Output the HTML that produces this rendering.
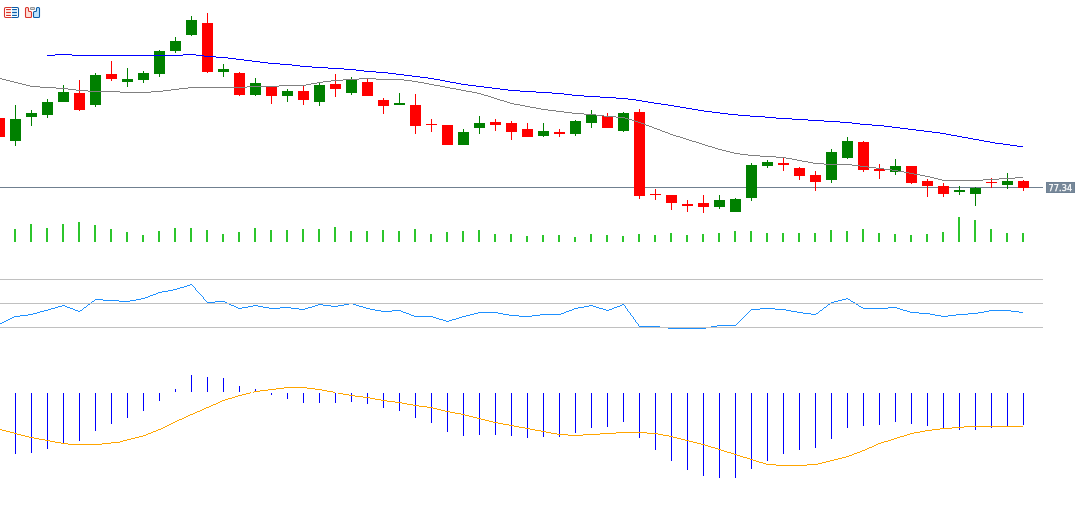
<!DOCTYPE html>
<html><head><meta charset="utf-8"><title>Chart</title>
<style>
html,body{margin:0;padding:0;background:#ffffff;}
body{width:1079px;height:505px;overflow:hidden;font-family:"Liberation Sans",sans-serif;}
svg{display:block;}
</style></head><body>
<svg width="1079" height="505" viewBox="0 0 1079 505">
<rect x="0" y="0" width="1079" height="505" fill="#ffffff"/>
<g shape-rendering="crispEdges">
<rect x="0" y="187" width="1043" height="1" fill="#708090"/>
<g fill="#ff0000"><rect x="-1" y="118" width="1" height="19"/><rect x="-6" y="118" width="11" height="19"/><rect x="79" y="80" width="1" height="31"/><rect x="74" y="93" width="11" height="17"/><rect x="111" y="61" width="1" height="20"/><rect x="106" y="74" width="11" height="5"/><rect x="207" y="13" width="1" height="60"/><rect x="202" y="23" width="11" height="49"/><rect x="239" y="72" width="1" height="24"/><rect x="234" y="73" width="11" height="22"/><rect x="271" y="86" width="1" height="18"/><rect x="266" y="87" width="11" height="9"/><rect x="303" y="85" width="1" height="20"/><rect x="298" y="91" width="11" height="9"/><rect x="335" y="74" width="1" height="23"/><rect x="330" y="84" width="11" height="5"/><rect x="367" y="79" width="1" height="17"/><rect x="362" y="82" width="11" height="14"/><rect x="383" y="98" width="1" height="16"/><rect x="378" y="100" width="11" height="6"/><rect x="415" y="94" width="1" height="40"/><rect x="410" y="105" width="11" height="21"/><rect x="431" y="119" width="1" height="13"/><rect x="426" y="124" width="11" height="1"/><rect x="447" y="125" width="1" height="20"/><rect x="442" y="125" width="11" height="20"/><rect x="495" y="119" width="1" height="12"/><rect x="490" y="122" width="11" height="3"/><rect x="511" y="121" width="1" height="19"/><rect x="506" y="123" width="11" height="9"/><rect x="527" y="123" width="1" height="14"/><rect x="522" y="129" width="11" height="8"/><rect x="559" y="129" width="1" height="8"/><rect x="554" y="132" width="11" height="2"/><rect x="607" y="113" width="1" height="15"/><rect x="602" y="116" width="11" height="12"/><rect x="639" y="109" width="1" height="90"/><rect x="634" y="112" width="11" height="84"/><rect x="655" y="189" width="1" height="11"/><rect x="650" y="194" width="11" height="1"/><rect x="671" y="195" width="1" height="15"/><rect x="666" y="195" width="11" height="8"/><rect x="687" y="200" width="1" height="12"/><rect x="682" y="204" width="11" height="2"/><rect x="703" y="195" width="1" height="18"/><rect x="698" y="203" width="11" height="4"/><rect x="783" y="158" width="1" height="13"/><rect x="778" y="163" width="11" height="2"/><rect x="799" y="167" width="1" height="13"/><rect x="794" y="168" width="11" height="8"/><rect x="815" y="171" width="1" height="20"/><rect x="810" y="175" width="11" height="7"/><rect x="863" y="141" width="1" height="31"/><rect x="858" y="142" width="11" height="28"/><rect x="879" y="164" width="1" height="15"/><rect x="874" y="169" width="11" height="2"/><rect x="911" y="166" width="1" height="18"/><rect x="906" y="166" width="11" height="17"/><rect x="927" y="179" width="1" height="18"/><rect x="922" y="181" width="11" height="5"/><rect x="943" y="183" width="1" height="14"/><rect x="938" y="186" width="11" height="8"/><rect x="991" y="178" width="1" height="10"/><rect x="986" y="182" width="11" height="1"/><rect x="1023" y="180" width="1" height="11"/><rect x="1018" y="181" width="11" height="7"/></g>
<g fill="#008000"><rect x="15" y="105" width="1" height="41"/><rect x="10" y="119" width="11" height="22"/><rect x="31" y="110" width="1" height="16"/><rect x="26" y="113" width="11" height="4"/><rect x="47" y="99" width="1" height="19"/><rect x="42" y="102" width="11" height="13"/><rect x="63" y="85" width="1" height="17"/><rect x="58" y="92" width="11" height="10"/><rect x="95" y="73" width="1" height="34"/><rect x="90" y="75" width="11" height="30"/><rect x="127" y="68" width="1" height="19"/><rect x="122" y="79" width="11" height="3"/><rect x="143" y="71" width="1" height="12"/><rect x="138" y="73" width="11" height="7"/><rect x="159" y="50" width="1" height="27"/><rect x="154" y="51" width="11" height="23"/><rect x="175" y="37" width="1" height="16"/><rect x="170" y="41" width="11" height="10"/><rect x="191" y="16" width="1" height="20"/><rect x="186" y="20" width="11" height="15"/><rect x="223" y="64" width="1" height="13"/><rect x="218" y="69" width="11" height="3"/><rect x="255" y="78" width="1" height="18"/><rect x="250" y="83" width="11" height="12"/><rect x="287" y="89" width="1" height="13"/><rect x="282" y="91" width="11" height="5"/><rect x="319" y="82" width="1" height="24"/><rect x="314" y="85" width="11" height="17"/><rect x="351" y="77" width="1" height="18"/><rect x="346" y="79" width="11" height="14"/><rect x="399" y="93" width="1" height="12"/><rect x="394" y="103" width="11" height="2"/><rect x="463" y="129" width="1" height="16"/><rect x="458" y="132" width="11" height="13"/><rect x="479" y="116" width="1" height="18"/><rect x="474" y="123" width="11" height="5"/><rect x="543" y="123" width="1" height="14"/><rect x="538" y="131" width="11" height="5"/><rect x="575" y="120" width="1" height="16"/><rect x="570" y="121" width="11" height="13"/><rect x="591" y="110" width="1" height="18"/><rect x="586" y="115" width="11" height="8"/><rect x="623" y="112" width="1" height="20"/><rect x="618" y="113" width="11" height="18"/><rect x="719" y="195" width="1" height="14"/><rect x="714" y="200" width="11" height="7"/><rect x="735" y="198" width="1" height="14"/><rect x="730" y="199" width="11" height="13"/><rect x="751" y="163" width="1" height="38"/><rect x="746" y="165" width="11" height="33"/><rect x="767" y="160" width="1" height="8"/><rect x="762" y="162" width="11" height="4"/><rect x="831" y="149" width="1" height="34"/><rect x="826" y="152" width="11" height="28"/><rect x="847" y="137" width="1" height="22"/><rect x="842" y="141" width="11" height="17"/><rect x="895" y="159" width="1" height="16"/><rect x="890" y="166" width="11" height="6"/><rect x="959" y="186" width="1" height="9"/><rect x="954" y="190" width="11" height="2"/><rect x="975" y="187" width="1" height="19"/><rect x="970" y="188" width="11" height="6"/><rect x="1007" y="173" width="1" height="16"/><rect x="1002" y="181" width="11" height="4"/></g>
<g fill="#808080"><rect x="0" y="78" width="2" height="1"/><rect x="359" y="78" width="17" height="1"/><rect x="2" y="79" width="4" height="1"/><rect x="343" y="79" width="16" height="1"/><rect x="376" y="79" width="28" height="1"/><rect x="6" y="80" width="4" height="1"/><rect x="331" y="80" width="12" height="1"/><rect x="404" y="80" width="8" height="1"/><rect x="10" y="81" width="4" height="1"/><rect x="323" y="81" width="8" height="1"/><rect x="412" y="81" width="6" height="1"/><rect x="14" y="82" width="4" height="1"/><rect x="317" y="82" width="6" height="1"/><rect x="418" y="82" width="6" height="1"/><rect x="18" y="83" width="4" height="1"/><rect x="311" y="83" width="6" height="1"/><rect x="424" y="83" width="5" height="1"/><rect x="22" y="84" width="4" height="1"/><rect x="306" y="84" width="5" height="1"/><rect x="429" y="84" width="5" height="1"/><rect x="26" y="85" width="4" height="1"/><rect x="279" y="85" width="27" height="1"/><rect x="434" y="85" width="6" height="1"/><rect x="30" y="86" width="10" height="1"/><rect x="247" y="86" width="32" height="1"/><rect x="440" y="86" width="5" height="1"/><rect x="40" y="87" width="16" height="1"/><rect x="188" y="87" width="59" height="1"/><rect x="445" y="87" width="5" height="1"/><rect x="56" y="88" width="12" height="1"/><rect x="179" y="88" width="9" height="1"/><rect x="450" y="88" width="6" height="1"/><rect x="68" y="89" width="8" height="1"/><rect x="171" y="89" width="8" height="1"/><rect x="456" y="89" width="5" height="1"/><rect x="76" y="90" width="12" height="1"/><rect x="163" y="90" width="8" height="1"/><rect x="461" y="90" width="5" height="1"/><rect x="88" y="91" width="32" height="1"/><rect x="151" y="91" width="12" height="1"/><rect x="466" y="91" width="6" height="1"/><rect x="120" y="92" width="31" height="1"/><rect x="472" y="92" width="5" height="1"/><rect x="477" y="93" width="4" height="1"/><rect x="481" y="94" width="3" height="1"/><rect x="484" y="95" width="4" height="1"/><rect x="488" y="96" width="3" height="1"/><rect x="491" y="97" width="3" height="1"/><rect x="494" y="98" width="3" height="1"/><rect x="497" y="99" width="3" height="1"/><rect x="500" y="100" width="4" height="1"/><rect x="504" y="101" width="3" height="1"/><rect x="507" y="102" width="3" height="1"/><rect x="510" y="103" width="4" height="1"/><rect x="514" y="104" width="6" height="1"/><rect x="520" y="105" width="5" height="1"/><rect x="525" y="106" width="5" height="1"/><rect x="530" y="107" width="6" height="1"/><rect x="536" y="108" width="5" height="1"/><rect x="541" y="109" width="7" height="1"/><rect x="548" y="110" width="8" height="1"/><rect x="556" y="111" width="8" height="1"/><rect x="564" y="112" width="8" height="1"/><rect x="572" y="113" width="12" height="1"/><rect x="584" y="114" width="12" height="1"/><rect x="596" y="115" width="8" height="1"/><rect x="604" y="116" width="12" height="1"/><rect x="616" y="117" width="9" height="1"/><rect x="625" y="118" width="3" height="1"/><rect x="628" y="119" width="4" height="1"/><rect x="632" y="120" width="3" height="1"/><rect x="635" y="121" width="3" height="1"/><rect x="638" y="122" width="3" height="1"/><rect x="641" y="123" width="3" height="1"/><rect x="644" y="124" width="2" height="1"/><rect x="646" y="125" width="3" height="1"/><rect x="649" y="126" width="3" height="1"/><rect x="652" y="127" width="2" height="1"/><rect x="654" y="128" width="3" height="1"/><rect x="657" y="129" width="3" height="1"/><rect x="660" y="130" width="2" height="1"/><rect x="662" y="131" width="3" height="1"/><rect x="665" y="132" width="3" height="1"/><rect x="668" y="133" width="2" height="1"/><rect x="670" y="134" width="3" height="1"/><rect x="673" y="135" width="3" height="1"/><rect x="676" y="136" width="4" height="1"/><rect x="680" y="137" width="3" height="1"/><rect x="683" y="138" width="3" height="1"/><rect x="686" y="139" width="3" height="1"/><rect x="689" y="140" width="3" height="1"/><rect x="692" y="141" width="4" height="1"/><rect x="696" y="142" width="3" height="1"/><rect x="699" y="143" width="3" height="1"/><rect x="702" y="144" width="3" height="1"/><rect x="705" y="145" width="3" height="1"/><rect x="708" y="146" width="4" height="1"/><rect x="712" y="147" width="3" height="1"/><rect x="715" y="148" width="3" height="1"/><rect x="718" y="149" width="4" height="1"/><rect x="722" y="150" width="4" height="1"/><rect x="726" y="151" width="4" height="1"/><rect x="730" y="152" width="4" height="1"/><rect x="734" y="153" width="6" height="1"/><rect x="740" y="154" width="8" height="1"/><rect x="748" y="155" width="12" height="1"/><rect x="760" y="156" width="16" height="1"/><rect x="776" y="157" width="10" height="1"/><rect x="786" y="158" width="6" height="1"/><rect x="792" y="159" width="5" height="1"/><rect x="797" y="160" width="5" height="1"/><rect x="802" y="161" width="6" height="1"/><rect x="808" y="162" width="5" height="1"/><rect x="813" y="163" width="11" height="1"/><rect x="824" y="164" width="28" height="1"/><rect x="852" y="165" width="8" height="1"/><rect x="860" y="166" width="8" height="1"/><rect x="868" y="167" width="8" height="1"/><rect x="876" y="168" width="8" height="1"/><rect x="884" y="169" width="8" height="1"/><rect x="892" y="170" width="6" height="1"/><rect x="898" y="171" width="6" height="1"/><rect x="904" y="172" width="5" height="1"/><rect x="909" y="173" width="5" height="1"/><rect x="914" y="174" width="6" height="1"/><rect x="920" y="175" width="5" height="1"/><rect x="925" y="176" width="5" height="1"/><rect x="930" y="177" width="4" height="1"/><rect x="1015" y="177" width="8" height="1"/><rect x="934" y="178" width="4" height="1"/><rect x="999" y="178" width="16" height="1"/><rect x="938" y="179" width="4" height="1"/><rect x="983" y="179" width="16" height="1"/><rect x="942" y="180" width="41" height="1"/></g>
<g fill="#0000ff"><rect x="55" y="54" width="17" height="1"/><rect x="183" y="54" width="13" height="1"/><rect x="47" y="55" width="8" height="1"/><rect x="72" y="55" width="111" height="1"/><rect x="196" y="55" width="8" height="1"/><rect x="204" y="56" width="12" height="1"/><rect x="216" y="57" width="12" height="1"/><rect x="228" y="58" width="8" height="1"/><rect x="236" y="59" width="8" height="1"/><rect x="244" y="60" width="8" height="1"/><rect x="252" y="61" width="8" height="1"/><rect x="260" y="62" width="8" height="1"/><rect x="268" y="63" width="12" height="1"/><rect x="280" y="64" width="12" height="1"/><rect x="292" y="65" width="8" height="1"/><rect x="300" y="66" width="12" height="1"/><rect x="312" y="67" width="16" height="1"/><rect x="328" y="68" width="16" height="1"/><rect x="344" y="69" width="12" height="1"/><rect x="356" y="70" width="8" height="1"/><rect x="364" y="71" width="12" height="1"/><rect x="376" y="72" width="12" height="1"/><rect x="388" y="73" width="8" height="1"/><rect x="396" y="74" width="8" height="1"/><rect x="404" y="75" width="8" height="1"/><rect x="412" y="76" width="8" height="1"/><rect x="420" y="77" width="8" height="1"/><rect x="428" y="78" width="6" height="1"/><rect x="434" y="79" width="6" height="1"/><rect x="440" y="80" width="5" height="1"/><rect x="445" y="81" width="5" height="1"/><rect x="450" y="82" width="6" height="1"/><rect x="456" y="83" width="5" height="1"/><rect x="461" y="84" width="7" height="1"/><rect x="468" y="85" width="8" height="1"/><rect x="476" y="86" width="8" height="1"/><rect x="484" y="87" width="8" height="1"/><rect x="492" y="88" width="8" height="1"/><rect x="500" y="89" width="8" height="1"/><rect x="508" y="90" width="12" height="1"/><rect x="520" y="91" width="16" height="1"/><rect x="536" y="92" width="16" height="1"/><rect x="552" y="93" width="12" height="1"/><rect x="564" y="94" width="8" height="1"/><rect x="572" y="95" width="12" height="1"/><rect x="584" y="96" width="16" height="1"/><rect x="600" y="97" width="16" height="1"/><rect x="616" y="98" width="12" height="1"/><rect x="628" y="99" width="8" height="1"/><rect x="636" y="100" width="6" height="1"/><rect x="642" y="101" width="6" height="1"/><rect x="648" y="102" width="6" height="1"/><rect x="654" y="103" width="7" height="1"/><rect x="661" y="104" width="7" height="1"/><rect x="668" y="105" width="6" height="1"/><rect x="674" y="106" width="6" height="1"/><rect x="680" y="107" width="6" height="1"/><rect x="686" y="108" width="6" height="1"/><rect x="692" y="109" width="6" height="1"/><rect x="698" y="110" width="6" height="1"/><rect x="704" y="111" width="8" height="1"/><rect x="712" y="112" width="8" height="1"/><rect x="720" y="113" width="8" height="1"/><rect x="728" y="114" width="10" height="1"/><rect x="738" y="115" width="12" height="1"/><rect x="750" y="116" width="15" height="1"/><rect x="765" y="117" width="11" height="1"/><rect x="776" y="118" width="16" height="1"/><rect x="792" y="119" width="16" height="1"/><rect x="808" y="120" width="16" height="1"/><rect x="824" y="121" width="16" height="1"/><rect x="840" y="122" width="12" height="1"/><rect x="852" y="123" width="8" height="1"/><rect x="860" y="124" width="12" height="1"/><rect x="872" y="125" width="12" height="1"/><rect x="884" y="126" width="8" height="1"/><rect x="892" y="127" width="8" height="1"/><rect x="900" y="128" width="8" height="1"/><rect x="908" y="129" width="8" height="1"/><rect x="916" y="130" width="8" height="1"/><rect x="924" y="131" width="8" height="1"/><rect x="932" y="132" width="8" height="1"/><rect x="940" y="133" width="6" height="1"/><rect x="946" y="134" width="5" height="1"/><rect x="951" y="135" width="6" height="1"/><rect x="957" y="136" width="5" height="1"/><rect x="962" y="137" width="6" height="1"/><rect x="968" y="138" width="5" height="1"/><rect x="973" y="139" width="6" height="1"/><rect x="979" y="140" width="5" height="1"/><rect x="984" y="141" width="6" height="1"/><rect x="990" y="142" width="5" height="1"/><rect x="995" y="143" width="8" height="1"/><rect x="1003" y="144" width="7" height="1"/><rect x="1010" y="145" width="7" height="1"/><rect x="1017" y="146" width="6" height="1"/></g>
<rect x="1046" y="182" width="29" height="11" fill="#6f8194"/>
<rect x="1047" y="183" width="27" height="9" fill="#778899"/>
<text x="1048.6" y="191" font-family="DejaVu Sans Condensed, DejaVu Sans, Liberation Sans, sans-serif" font-stretch="condensed" font-size="9" letter-spacing="0.1" fill="#ffffff" stroke="#ffffff" stroke-width="0.25">77.34</text>
<g fill="#2cc52c"><rect x="14" y="229" width="2" height="13"/><rect x="30" y="224" width="2" height="18"/><rect x="46" y="228" width="2" height="14"/><rect x="62" y="224" width="2" height="18"/><rect x="78" y="222" width="2" height="20"/><rect x="94" y="225" width="2" height="17"/><rect x="110" y="229" width="2" height="13"/><rect x="126" y="232" width="2" height="10"/><rect x="142" y="235" width="2" height="7"/><rect x="158" y="231" width="2" height="11"/><rect x="174" y="228" width="2" height="14"/><rect x="190" y="228" width="2" height="14"/><rect x="206" y="230" width="2" height="12"/><rect x="222" y="234" width="2" height="8"/><rect x="238" y="232" width="2" height="10"/><rect x="254" y="228" width="2" height="14"/><rect x="270" y="230" width="2" height="12"/><rect x="286" y="230" width="2" height="12"/><rect x="302" y="229" width="2" height="13"/><rect x="318" y="229" width="2" height="13"/><rect x="334" y="227" width="2" height="15"/><rect x="350" y="231" width="2" height="11"/><rect x="366" y="231" width="2" height="11"/><rect x="382" y="230" width="2" height="12"/><rect x="398" y="231" width="2" height="11"/><rect x="414" y="229" width="2" height="13"/><rect x="430" y="234" width="2" height="8"/><rect x="446" y="232" width="2" height="10"/><rect x="462" y="231" width="2" height="11"/><rect x="478" y="230" width="2" height="12"/><rect x="494" y="234" width="2" height="8"/><rect x="510" y="234" width="2" height="8"/><rect x="526" y="236" width="2" height="6"/><rect x="542" y="235" width="2" height="7"/><rect x="558" y="235" width="2" height="7"/><rect x="574" y="237" width="2" height="5"/><rect x="590" y="234" width="2" height="8"/><rect x="606" y="235" width="2" height="7"/><rect x="622" y="236" width="2" height="6"/><rect x="638" y="234" width="2" height="8"/><rect x="654" y="235" width="2" height="7"/><rect x="670" y="233" width="2" height="9"/><rect x="686" y="235" width="2" height="7"/><rect x="702" y="234" width="2" height="8"/><rect x="718" y="233" width="2" height="9"/><rect x="734" y="231" width="2" height="11"/><rect x="750" y="231" width="2" height="11"/><rect x="766" y="233" width="2" height="9"/><rect x="782" y="233" width="2" height="9"/><rect x="798" y="233" width="2" height="9"/><rect x="814" y="233" width="2" height="9"/><rect x="830" y="230" width="2" height="12"/><rect x="846" y="231" width="2" height="11"/><rect x="862" y="229" width="2" height="13"/><rect x="878" y="233" width="2" height="9"/><rect x="894" y="234" width="2" height="8"/><rect x="910" y="235" width="2" height="7"/><rect x="926" y="234" width="2" height="8"/><rect x="942" y="232" width="2" height="10"/><rect x="958" y="217" width="2" height="25"/><rect x="974" y="220" width="2" height="22"/><rect x="990" y="229" width="2" height="13"/><rect x="1006" y="233" width="2" height="9"/><rect x="1022" y="233" width="2" height="9"/></g>
<g fill="#1e90ff"><rect x="190" y="284" width="2" height="1"/><rect x="187" y="285" width="3" height="1"/><rect x="192" y="285" width="1" height="1"/><rect x="184" y="286" width="3" height="1"/><rect x="193" y="286" width="1" height="1"/><rect x="180" y="287" width="4" height="1"/><rect x="194" y="287" width="1" height="1"/><rect x="177" y="288" width="3" height="1"/><rect x="195" y="288" width="1" height="1"/><rect x="173" y="289" width="4" height="1"/><rect x="195" y="289" width="1" height="1"/><rect x="168" y="290" width="5" height="1"/><rect x="196" y="290" width="1" height="1"/><rect x="162" y="291" width="6" height="1"/><rect x="197" y="291" width="1" height="1"/><rect x="158" y="292" width="4" height="1"/><rect x="198" y="292" width="1" height="1"/><rect x="156" y="293" width="2" height="1"/><rect x="199" y="293" width="1" height="1"/><rect x="153" y="294" width="3" height="1"/><rect x="200" y="294" width="1" height="1"/><rect x="150" y="295" width="3" height="1"/><rect x="201" y="295" width="1" height="1"/><rect x="148" y="296" width="2" height="1"/><rect x="202" y="296" width="1" height="1"/><rect x="145" y="297" width="3" height="1"/><rect x="203" y="297" width="1" height="1"/><rect x="141" y="298" width="4" height="1"/><rect x="203" y="298" width="1" height="1"/><rect x="846" y="298" width="2" height="1"/><rect x="95" y="299" width="8" height="1"/><rect x="136" y="299" width="5" height="1"/><rect x="204" y="299" width="1" height="1"/><rect x="842" y="299" width="4" height="1"/><rect x="848" y="299" width="2" height="1"/><rect x="94" y="300" width="1" height="1"/><rect x="103" y="300" width="16" height="1"/><rect x="130" y="300" width="6" height="1"/><rect x="205" y="300" width="1" height="1"/><rect x="838" y="300" width="4" height="1"/><rect x="850" y="300" width="1" height="1"/><rect x="92" y="301" width="2" height="1"/><rect x="119" y="301" width="11" height="1"/><rect x="206" y="301" width="1" height="1"/><rect x="215" y="301" width="10" height="1"/><rect x="834" y="301" width="4" height="1"/><rect x="851" y="301" width="2" height="1"/><rect x="91" y="302" width="1" height="1"/><rect x="207" y="302" width="8" height="1"/><rect x="225" y="302" width="2" height="1"/><rect x="831" y="302" width="3" height="1"/><rect x="853" y="302" width="2" height="1"/><rect x="90" y="303" width="1" height="1"/><rect x="227" y="303" width="2" height="1"/><rect x="349" y="303" width="4" height="1"/><rect x="830" y="303" width="1" height="1"/><rect x="855" y="303" width="1" height="1"/><rect x="88" y="304" width="2" height="1"/><rect x="229" y="304" width="2" height="1"/><rect x="318" y="304" width="5" height="1"/><rect x="344" y="304" width="5" height="1"/><rect x="353" y="304" width="3" height="1"/><rect x="622" y="304" width="2" height="1"/><rect x="828" y="304" width="2" height="1"/><rect x="856" y="304" width="2" height="1"/><rect x="62" y="305" width="3" height="1"/><rect x="87" y="305" width="1" height="1"/><rect x="231" y="305" width="3" height="1"/><rect x="253" y="305" width="5" height="1"/><rect x="315" y="305" width="3" height="1"/><rect x="323" y="305" width="8" height="1"/><rect x="338" y="305" width="6" height="1"/><rect x="356" y="305" width="3" height="1"/><rect x="589" y="305" width="4" height="1"/><rect x="620" y="305" width="2" height="1"/><rect x="624" y="305" width="1" height="1"/><rect x="827" y="305" width="1" height="1"/><rect x="858" y="305" width="1" height="1"/><rect x="58" y="306" width="4" height="1"/><rect x="65" y="306" width="2" height="1"/><rect x="86" y="306" width="1" height="1"/><rect x="234" y="306" width="2" height="1"/><rect x="248" y="306" width="5" height="1"/><rect x="258" y="306" width="5" height="1"/><rect x="312" y="306" width="3" height="1"/><rect x="331" y="306" width="7" height="1"/><rect x="359" y="306" width="4" height="1"/><rect x="584" y="306" width="5" height="1"/><rect x="593" y="306" width="3" height="1"/><rect x="617" y="306" width="3" height="1"/><rect x="625" y="306" width="1" height="1"/><rect x="826" y="306" width="1" height="1"/><rect x="859" y="306" width="2" height="1"/><rect x="55" y="307" width="3" height="1"/><rect x="67" y="307" width="3" height="1"/><rect x="84" y="307" width="2" height="1"/><rect x="236" y="307" width="2" height="1"/><rect x="242" y="307" width="6" height="1"/><rect x="263" y="307" width="6" height="1"/><rect x="280" y="307" width="11" height="1"/><rect x="308" y="307" width="4" height="1"/><rect x="363" y="307" width="3" height="1"/><rect x="578" y="307" width="6" height="1"/><rect x="596" y="307" width="3" height="1"/><rect x="614" y="307" width="3" height="1"/><rect x="625" y="307" width="1" height="1"/><rect x="824" y="307" width="2" height="1"/><rect x="861" y="307" width="2" height="1"/><rect x="888" y="307" width="9" height="1"/><rect x="51" y="308" width="4" height="1"/><rect x="70" y="308" width="3" height="1"/><rect x="83" y="308" width="1" height="1"/><rect x="238" y="308" width="4" height="1"/><rect x="269" y="308" width="11" height="1"/><rect x="291" y="308" width="8" height="1"/><rect x="305" y="308" width="3" height="1"/><rect x="366" y="308" width="4" height="1"/><rect x="574" y="308" width="4" height="1"/><rect x="599" y="308" width="4" height="1"/><rect x="612" y="308" width="2" height="1"/><rect x="626" y="308" width="1" height="1"/><rect x="760" y="308" width="15" height="1"/><rect x="823" y="308" width="1" height="1"/><rect x="863" y="308" width="25" height="1"/><rect x="897" y="308" width="3" height="1"/><rect x="48" y="309" width="3" height="1"/><rect x="73" y="309" width="2" height="1"/><rect x="82" y="309" width="1" height="1"/><rect x="299" y="309" width="6" height="1"/><rect x="370" y="309" width="5" height="1"/><rect x="572" y="309" width="2" height="1"/><rect x="603" y="309" width="3" height="1"/><rect x="609" y="309" width="3" height="1"/><rect x="627" y="309" width="1" height="1"/><rect x="751" y="309" width="9" height="1"/><rect x="775" y="309" width="11" height="1"/><rect x="822" y="309" width="1" height="1"/><rect x="900" y="309" width="3" height="1"/><rect x="44" y="310" width="4" height="1"/><rect x="75" y="310" width="3" height="1"/><rect x="80" y="310" width="2" height="1"/><rect x="375" y="310" width="6" height="1"/><rect x="392" y="310" width="9" height="1"/><rect x="569" y="310" width="3" height="1"/><rect x="606" y="310" width="3" height="1"/><rect x="627" y="310" width="1" height="1"/><rect x="750" y="310" width="1" height="1"/><rect x="786" y="310" width="5" height="1"/><rect x="820" y="310" width="2" height="1"/><rect x="903" y="310" width="4" height="1"/><rect x="989" y="310" width="22" height="1"/><rect x="40" y="311" width="4" height="1"/><rect x="78" y="311" width="2" height="1"/><rect x="381" y="311" width="11" height="1"/><rect x="401" y="311" width="2" height="1"/><rect x="566" y="311" width="3" height="1"/><rect x="628" y="311" width="1" height="1"/><rect x="749" y="311" width="1" height="1"/><rect x="791" y="311" width="6" height="1"/><rect x="819" y="311" width="1" height="1"/><rect x="907" y="311" width="3" height="1"/><rect x="984" y="311" width="5" height="1"/><rect x="1011" y="311" width="8" height="1"/><rect x="37" y="312" width="3" height="1"/><rect x="403" y="312" width="3" height="1"/><rect x="478" y="312" width="20" height="1"/><rect x="564" y="312" width="2" height="1"/><rect x="629" y="312" width="1" height="1"/><rect x="748" y="312" width="1" height="1"/><rect x="797" y="312" width="6" height="1"/><rect x="818" y="312" width="1" height="1"/><rect x="910" y="312" width="9" height="1"/><rect x="978" y="312" width="6" height="1"/><rect x="1019" y="312" width="4" height="1"/><rect x="33" y="313" width="4" height="1"/><rect x="406" y="313" width="3" height="1"/><rect x="474" y="313" width="4" height="1"/><rect x="498" y="313" width="5" height="1"/><rect x="561" y="313" width="3" height="1"/><rect x="630" y="313" width="1" height="1"/><rect x="747" y="313" width="1" height="1"/><rect x="803" y="313" width="8" height="1"/><rect x="816" y="313" width="2" height="1"/><rect x="919" y="313" width="11" height="1"/><rect x="968" y="313" width="10" height="1"/><rect x="28" y="314" width="5" height="1"/><rect x="409" y="314" width="2" height="1"/><rect x="470" y="314" width="4" height="1"/><rect x="503" y="314" width="6" height="1"/><rect x="540" y="314" width="21" height="1"/><rect x="630" y="314" width="1" height="1"/><rect x="746" y="314" width="1" height="1"/><rect x="811" y="314" width="5" height="1"/><rect x="930" y="314" width="5" height="1"/><rect x="956" y="314" width="12" height="1"/><rect x="20" y="315" width="8" height="1"/><rect x="411" y="315" width="3" height="1"/><rect x="466" y="315" width="4" height="1"/><rect x="509" y="315" width="10" height="1"/><rect x="532" y="315" width="8" height="1"/><rect x="631" y="315" width="1" height="1"/><rect x="745" y="315" width="1" height="1"/><rect x="935" y="315" width="6" height="1"/><rect x="948" y="315" width="8" height="1"/><rect x="14" y="316" width="6" height="1"/><rect x="414" y="316" width="19" height="1"/><rect x="462" y="316" width="4" height="1"/><rect x="519" y="316" width="13" height="1"/><rect x="632" y="316" width="1" height="1"/><rect x="744" y="316" width="1" height="1"/><rect x="941" y="316" width="7" height="1"/><rect x="12" y="317" width="2" height="1"/><rect x="433" y="317" width="3" height="1"/><rect x="459" y="317" width="3" height="1"/><rect x="633" y="317" width="1" height="1"/><rect x="743" y="317" width="1" height="1"/><rect x="10" y="318" width="2" height="1"/><rect x="436" y="318" width="3" height="1"/><rect x="456" y="318" width="3" height="1"/><rect x="633" y="318" width="1" height="1"/><rect x="742" y="318" width="1" height="1"/><rect x="8" y="319" width="2" height="1"/><rect x="439" y="319" width="4" height="1"/><rect x="452" y="319" width="4" height="1"/><rect x="634" y="319" width="1" height="1"/><rect x="741" y="319" width="1" height="1"/><rect x="6" y="320" width="2" height="1"/><rect x="443" y="320" width="3" height="1"/><rect x="449" y="320" width="3" height="1"/><rect x="635" y="320" width="1" height="1"/><rect x="740" y="320" width="1" height="1"/><rect x="4" y="321" width="2" height="1"/><rect x="446" y="321" width="3" height="1"/><rect x="635" y="321" width="1" height="1"/><rect x="739" y="321" width="1" height="1"/><rect x="2" y="322" width="2" height="1"/><rect x="636" y="322" width="1" height="1"/><rect x="738" y="322" width="1" height="1"/><rect x="0" y="323" width="2" height="1"/><rect x="637" y="323" width="1" height="1"/><rect x="737" y="323" width="1" height="1"/><rect x="638" y="324" width="1" height="1"/><rect x="736" y="324" width="1" height="1"/><rect x="638" y="325" width="1" height="1"/><rect x="717" y="325" width="19" height="1"/><rect x="639" y="326" width="21" height="1"/><rect x="711" y="326" width="6" height="1"/><rect x="660" y="327" width="8" height="1"/><rect x="706" y="327" width="5" height="1"/><rect x="668" y="328" width="38" height="1"/></g>
<rect x="0" y="279" width="1043" height="1" fill="#c0c0c0"/>
<rect x="0" y="303" width="1043" height="1" fill="#c0c0c0"/>
<rect x="0" y="327" width="1043" height="1" fill="#c0c0c0"/>
<g fill="#0000ff"><rect x="15" y="393" width="1" height="61"/><rect x="31" y="393" width="1" height="60"/><rect x="47" y="393" width="1" height="56"/><rect x="63" y="393" width="1" height="50"/><rect x="79" y="393" width="1" height="48"/><rect x="95" y="393" width="1" height="38"/><rect x="111" y="393" width="1" height="31"/><rect x="127" y="393" width="1" height="25"/><rect x="143" y="393" width="1" height="18"/><rect x="159" y="393" width="1" height="8"/><rect x="175" y="389" width="1" height="3"/><rect x="191" y="375" width="1" height="17"/><rect x="207" y="377" width="1" height="15"/><rect x="223" y="378" width="1" height="14"/><rect x="239" y="386" width="1" height="6"/><rect x="255" y="389" width="1" height="2"/><rect x="271" y="393" width="1" height="2"/><rect x="287" y="393" width="1" height="6"/><rect x="303" y="393" width="1" height="10"/><rect x="319" y="393" width="1" height="10"/><rect x="335" y="393" width="1" height="10"/><rect x="351" y="393" width="1" height="9"/><rect x="367" y="393" width="1" height="11"/><rect x="383" y="393" width="1" height="15"/><rect x="399" y="393" width="1" height="18"/><rect x="415" y="393" width="1" height="25"/><rect x="431" y="393" width="1" height="30"/><rect x="447" y="393" width="1" height="39"/><rect x="463" y="393" width="1" height="43"/><rect x="479" y="393" width="1" height="42"/><rect x="495" y="393" width="1" height="42"/><rect x="511" y="393" width="1" height="43"/><rect x="527" y="393" width="1" height="45"/><rect x="543" y="393" width="1" height="44"/><rect x="559" y="393" width="1" height="44"/><rect x="575" y="393" width="1" height="40"/><rect x="591" y="393" width="1" height="35"/><rect x="607" y="393" width="1" height="34"/><rect x="623" y="393" width="1" height="29"/><rect x="639" y="393" width="1" height="45"/><rect x="655" y="393" width="1" height="57"/><rect x="671" y="393" width="1" height="68"/><rect x="687" y="393" width="1" height="77"/><rect x="703" y="393" width="1" height="83"/><rect x="719" y="393" width="1" height="85"/><rect x="735" y="393" width="1" height="85"/><rect x="751" y="393" width="1" height="76"/><rect x="767" y="393" width="1" height="68"/><rect x="783" y="393" width="1" height="61"/><rect x="799" y="393" width="1" height="57"/><rect x="815" y="393" width="1" height="55"/><rect x="831" y="393" width="1" height="46"/><rect x="847" y="393" width="1" height="35"/><rect x="863" y="393" width="1" height="33"/><rect x="879" y="393" width="1" height="32"/><rect x="895" y="393" width="1" height="29"/><rect x="911" y="393" width="1" height="31"/><rect x="927" y="393" width="1" height="33"/><rect x="943" y="393" width="1" height="36"/><rect x="959" y="393" width="1" height="37"/><rect x="975" y="393" width="1" height="37"/><rect x="991" y="393" width="1" height="35"/><rect x="1007" y="393" width="1" height="33"/><rect x="1023" y="393" width="1" height="32"/></g>
<g fill="#ffa500"><rect x="284" y="387" width="23" height="1"/><rect x="276" y="388" width="8" height="1"/><rect x="307" y="388" width="8" height="1"/><rect x="268" y="389" width="8" height="1"/><rect x="315" y="389" width="7" height="1"/><rect x="260" y="390" width="8" height="1"/><rect x="322" y="390" width="5" height="1"/><rect x="254" y="391" width="6" height="1"/><rect x="327" y="391" width="6" height="1"/><rect x="250" y="392" width="1" height="1"/><rect x="253" y="392" width="1" height="1"/><rect x="333" y="392" width="2" height="1"/><rect x="246" y="393" width="4" height="1"/><rect x="338" y="393" width="5" height="1"/><rect x="242" y="394" width="4" height="1"/><rect x="343" y="394" width="6" height="1"/><rect x="238" y="395" width="4" height="1"/><rect x="349" y="395" width="6" height="1"/><rect x="235" y="396" width="3" height="1"/><rect x="355" y="396" width="8" height="1"/><rect x="232" y="397" width="3" height="1"/><rect x="363" y="397" width="7" height="1"/><rect x="228" y="398" width="4" height="1"/><rect x="370" y="398" width="5" height="1"/><rect x="225" y="399" width="3" height="1"/><rect x="375" y="399" width="6" height="1"/><rect x="222" y="400" width="3" height="1"/><rect x="381" y="400" width="6" height="1"/><rect x="220" y="401" width="2" height="1"/><rect x="387" y="401" width="8" height="1"/><rect x="218" y="402" width="2" height="1"/><rect x="395" y="402" width="7" height="1"/><rect x="216" y="403" width="2" height="1"/><rect x="402" y="403" width="5" height="1"/><rect x="213" y="404" width="3" height="1"/><rect x="407" y="404" width="6" height="1"/><rect x="211" y="405" width="2" height="1"/><rect x="413" y="405" width="6" height="1"/><rect x="209" y="406" width="2" height="1"/><rect x="419" y="406" width="8" height="1"/><rect x="206" y="407" width="3" height="1"/><rect x="427" y="407" width="6" height="1"/><rect x="204" y="408" width="2" height="1"/><rect x="433" y="408" width="4" height="1"/><rect x="202" y="409" width="2" height="1"/><rect x="437" y="409" width="4" height="1"/><rect x="200" y="410" width="2" height="1"/><rect x="441" y="410" width="4" height="1"/><rect x="197" y="411" width="3" height="1"/><rect x="445" y="411" width="5" height="1"/><rect x="195" y="412" width="2" height="1"/><rect x="450" y="412" width="5" height="1"/><rect x="193" y="413" width="2" height="1"/><rect x="455" y="413" width="6" height="1"/><rect x="190" y="414" width="3" height="1"/><rect x="461" y="414" width="4" height="1"/><rect x="188" y="415" width="2" height="1"/><rect x="465" y="415" width="4" height="1"/><rect x="186" y="416" width="2" height="1"/><rect x="469" y="416" width="4" height="1"/><rect x="184" y="417" width="2" height="1"/><rect x="473" y="417" width="4" height="1"/><rect x="182" y="418" width="2" height="1"/><rect x="477" y="418" width="4" height="1"/><rect x="179" y="419" width="3" height="1"/><rect x="481" y="419" width="4" height="1"/><rect x="177" y="420" width="2" height="1"/><rect x="485" y="420" width="4" height="1"/><rect x="175" y="421" width="2" height="1"/><rect x="489" y="421" width="4" height="1"/><rect x="173" y="422" width="2" height="1"/><rect x="493" y="422" width="5" height="1"/><rect x="171" y="423" width="2" height="1"/><rect x="498" y="423" width="5" height="1"/><rect x="169" y="424" width="2" height="1"/><rect x="503" y="424" width="6" height="1"/><rect x="167" y="425" width="2" height="1"/><rect x="509" y="425" width="5" height="1"/><rect x="165" y="426" width="2" height="1"/><rect x="514" y="426" width="5" height="1"/><rect x="964" y="426" width="59" height="1"/><rect x="163" y="427" width="2" height="1"/><rect x="519" y="427" width="6" height="1"/><rect x="952" y="427" width="12" height="1"/><rect x="161" y="428" width="2" height="1"/><rect x="525" y="428" width="5" height="1"/><rect x="940" y="428" width="12" height="1"/><rect x="0" y="429" width="2" height="1"/><rect x="158" y="429" width="3" height="1"/><rect x="530" y="429" width="5" height="1"/><rect x="932" y="429" width="8" height="1"/><rect x="2" y="430" width="4" height="1"/><rect x="156" y="430" width="2" height="1"/><rect x="535" y="430" width="6" height="1"/><rect x="925" y="430" width="7" height="1"/><rect x="6" y="431" width="4" height="1"/><rect x="153" y="431" width="3" height="1"/><rect x="541" y="431" width="5" height="1"/><rect x="920" y="431" width="5" height="1"/><rect x="10" y="432" width="4" height="1"/><rect x="151" y="432" width="2" height="1"/><rect x="546" y="432" width="5" height="1"/><rect x="616" y="432" width="31" height="1"/><rect x="914" y="432" width="6" height="1"/><rect x="14" y="433" width="3" height="1"/><rect x="148" y="433" width="3" height="1"/><rect x="551" y="433" width="6" height="1"/><rect x="600" y="433" width="16" height="1"/><rect x="647" y="433" width="11" height="1"/><rect x="910" y="433" width="4" height="1"/><rect x="17" y="434" width="4" height="1"/><rect x="146" y="434" width="2" height="1"/><rect x="557" y="434" width="11" height="1"/><rect x="583" y="434" width="17" height="1"/><rect x="658" y="434" width="5" height="1"/><rect x="907" y="434" width="3" height="1"/><rect x="21" y="435" width="4" height="1"/><rect x="143" y="435" width="3" height="1"/><rect x="568" y="435" width="15" height="1"/><rect x="663" y="435" width="6" height="1"/><rect x="904" y="435" width="3" height="1"/><rect x="25" y="436" width="4" height="1"/><rect x="139" y="436" width="4" height="1"/><rect x="669" y="436" width="4" height="1"/><rect x="900" y="436" width="4" height="1"/><rect x="29" y="437" width="5" height="1"/><rect x="135" y="437" width="4" height="1"/><rect x="673" y="437" width="4" height="1"/><rect x="897" y="437" width="3" height="1"/><rect x="34" y="438" width="5" height="1"/><rect x="131" y="438" width="4" height="1"/><rect x="677" y="438" width="4" height="1"/><rect x="894" y="438" width="3" height="1"/><rect x="39" y="439" width="6" height="1"/><rect x="127" y="439" width="4" height="1"/><rect x="681" y="439" width="4" height="1"/><rect x="891" y="439" width="3" height="1"/><rect x="45" y="440" width="5" height="1"/><rect x="123" y="440" width="4" height="1"/><rect x="685" y="440" width="4" height="1"/><rect x="888" y="440" width="3" height="1"/><rect x="50" y="441" width="5" height="1"/><rect x="120" y="441" width="3" height="1"/><rect x="689" y="441" width="4" height="1"/><rect x="884" y="441" width="4" height="1"/><rect x="55" y="442" width="6" height="1"/><rect x="111" y="442" width="9" height="1"/><rect x="693" y="442" width="4" height="1"/><rect x="881" y="442" width="3" height="1"/><rect x="61" y="443" width="7" height="1"/><rect x="102" y="443" width="9" height="1"/><rect x="697" y="443" width="4" height="1"/><rect x="878" y="443" width="3" height="1"/><rect x="68" y="444" width="34" height="1"/><rect x="701" y="444" width="4" height="1"/><rect x="876" y="444" width="2" height="1"/><rect x="705" y="445" width="3" height="1"/><rect x="874" y="445" width="2" height="1"/><rect x="708" y="446" width="3" height="1"/><rect x="872" y="446" width="2" height="1"/><rect x="711" y="447" width="4" height="1"/><rect x="869" y="447" width="3" height="1"/><rect x="715" y="448" width="3" height="1"/><rect x="867" y="448" width="2" height="1"/><rect x="718" y="449" width="3" height="1"/><rect x="865" y="449" width="2" height="1"/><rect x="721" y="450" width="3" height="1"/><rect x="862" y="450" width="3" height="1"/><rect x="724" y="451" width="3" height="1"/><rect x="860" y="451" width="2" height="1"/><rect x="727" y="452" width="4" height="1"/><rect x="857" y="452" width="3" height="1"/><rect x="731" y="453" width="3" height="1"/><rect x="854" y="453" width="3" height="1"/><rect x="734" y="454" width="3" height="1"/><rect x="852" y="454" width="2" height="1"/><rect x="737" y="455" width="3" height="1"/><rect x="849" y="455" width="3" height="1"/><rect x="740" y="456" width="3" height="1"/><rect x="846" y="456" width="3" height="1"/><rect x="743" y="457" width="4" height="1"/><rect x="842" y="457" width="4" height="1"/><rect x="747" y="458" width="3" height="1"/><rect x="838" y="458" width="4" height="1"/><rect x="750" y="459" width="3" height="1"/><rect x="834" y="459" width="4" height="1"/><rect x="753" y="460" width="3" height="1"/><rect x="830" y="460" width="4" height="1"/><rect x="756" y="461" width="3" height="1"/><rect x="826" y="461" width="4" height="1"/><rect x="759" y="462" width="4" height="1"/><rect x="822" y="462" width="4" height="1"/><rect x="763" y="463" width="3" height="1"/><rect x="818" y="463" width="4" height="1"/><rect x="766" y="464" width="10" height="1"/><rect x="807" y="464" width="11" height="1"/><rect x="776" y="465" width="31" height="1"/></g>
</g>
<g fill="none" stroke-width="1">
<!-- icon 1: list -->
<rect x="6" y="10" width="5" height="5" fill="#fde3dc"/>
<rect x="12" y="10" width="5" height="5" fill="#c9e6fb"/>
<path d="M11.5 7.5H5.7A1.2 1.2 0 0 0 4.5 8.7V16.3A1.2 1.2 0 0 0 5.7 17.5H11.5" stroke="#d9342b" stroke-width="1.1"/>
<path d="M11.5 7.5H17.3A1.2 1.2 0 0 1 18.5 8.7V16.3A1.2 1.2 0 0 1 17.3 17.5H11.5" stroke="#0b5ca8" stroke-width="1.1"/>
<path d="M6.5 9.5H10.5M6.5 12.5H10.5M6.5 15.5H10.5" stroke="#d9342b" stroke-linecap="round"/>
<path d="M12.5 9.5H16.5M12.5 12.5H16.5M12.5 15.5H16.5" stroke="#0b5ca8" stroke-linecap="round"/>
<!-- icon 2: depth -->
<path d="M26.5 7.5H27.5A1 1 0 0 1 28.5 8.5V10.5A1 1 0 0 0 29.5 11.5H30.5A1 1 0 0 1 31.5 12.5V16.5A1 1 0 0 1 30.5 17.5H26.5A1 1 0 0 1 25.5 16.5V8.5A1 1 0 0 1 26.5 7.5Z" stroke="#d9342b" stroke-width="1.1" fill="#fde0d8"/>
<path d="M38.5 7.5H37.5A1 1 0 0 0 36.5 8.5V10.5A1 1 0 0 1 35.5 11.5H34.5A1 1 0 0 0 33.5 12.5V16.5A1 1 0 0 0 34.5 17.5H38.5A1 1 0 0 0 39.5 16.5V8.5A1 1 0 0 0 38.5 7.5Z" stroke="#0b5ca8" stroke-width="1.1" fill="#bfe3fc"/>
<rect x="30.5" y="7.6" width="4" height="1.9" rx="0.6" ry="0.6" stroke="#969696" stroke-width="1.05" fill="#f4f4f4"/>
</g>

</svg>
</body></html>
